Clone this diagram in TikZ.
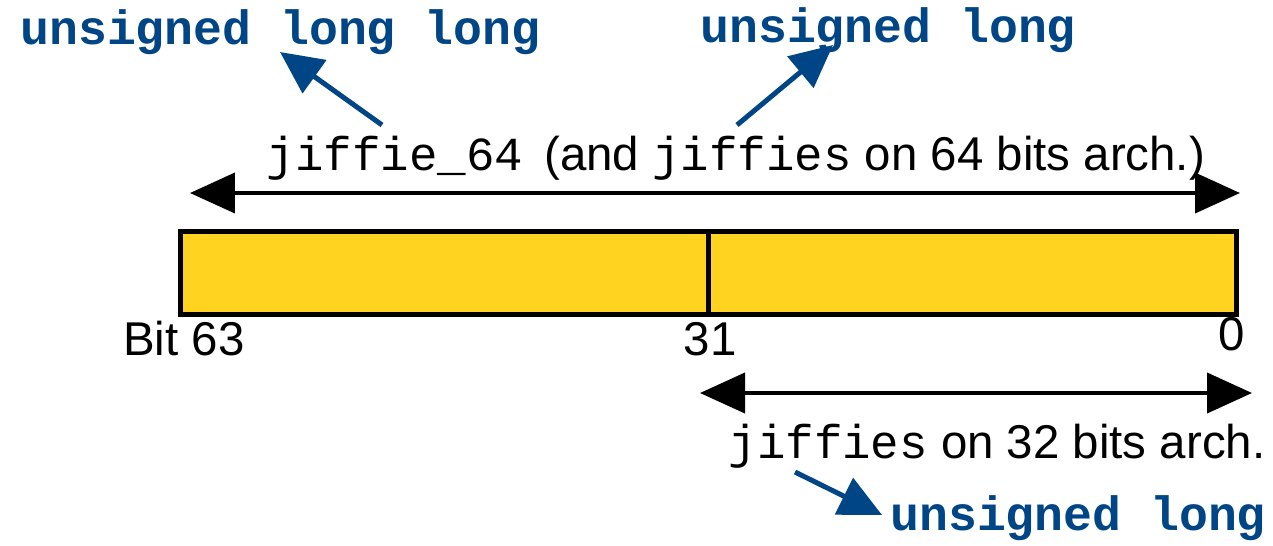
\documentclass[tikz,border=0pt]{standalone}
\usepackage{fontspec}
\setmainfont{Liberation Sans}
\setmonofont{Liberation Mono}
\usetikzlibrary{arrows.meta,positioning}
\definecolor{loblue}{HTML}{004586}
\definecolor{logold}{HTML}{FFD320}
\begin{document}
\begin{tikzpicture}[x=0.02cm,y=-0.02cm,
    every node/.style={font=\fontsize{27}{32}\selectfont, inner sep=0pt},
    typename/.style={font=\fontsize{27.4}{32}\selectfont\ttfamily\bfseries, text=loblue, anchor=base west},
    bitno/.style={anchor=base},
    span/.style={line width=0.08cm, {Triangle[length=0.9cm,width=0.8cm]}-{Triangle[length=0.9cm,width=0.8cm]}},
    pointer/.style={draw=loblue, line width=0.1cm, -{Triangle[length=0.85cm,width=0.8cm]}}]
    \useasboundingbox (0,0) rectangle (1273,545);
    % the 64 bit word
    \draw[line width=0.1cm, fill=logold] (180,231) rectangle (1236,314);
    \draw[line width=0.1cm] (708,231) -- (708,314);
    \node[bitno] (b63) at (184,355) {Bit 63};
    \node[bitno] (b31) at (710,355) {31};
    \node[bitno] (b0) at (1232,350) {0};
    % 64 bits span
    \coordinate (l64) at (190,193);
    \coordinate (r64) at (1240,193);
    \draw[span] (l64) -- (r64);
    \node[anchor=base] (j64) at (736,170) {\texttt{jiffie\_64}\, (and \texttt{jiffies} on 64 bits arch.)};
    % 32 bits span
    \coordinate (l32) at (700,393);
    \coordinate (r32) at (1252,393);
    \draw[span] (l32) -- (r32);
    \node[anchor=base] (j32) at (997,458) {\texttt{jiffies} on 32 bits arch.};
    % C types
    \node[typename] (ull) at (20,44) {unsigned long long};
    \node[typename] (ultop) at (700,42) {unsigned long};
    \node[typename] (ulbot) at (890,530) {unsigned long};
    \coordinate (from1) at (382,125);
    \coordinate (to1) at (280,52);
    \coordinate (from2) at (737,125);
    \coordinate (to2) at (833,45);
    \coordinate (from3) at (795,472);
    \coordinate (to3) at (882,515);
    \draw[pointer] (from1) -- (to1);
    \draw[pointer] (from2) -- (to2);
    \draw[pointer] (from3) -- (to3);
\end{tikzpicture}
\end{document}
